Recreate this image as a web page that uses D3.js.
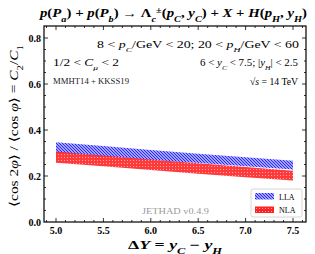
<!DOCTYPE html>
<html><head><meta charset="utf-8">
<script src="https://cdn.jsdelivr.net/npm/d3@7"></script>
<style>
html,body{margin:0;padding:0;background:#fff;}
svg{display:block;}
text{font-family:"Liberation Serif","DejaVu Serif",serif;}
</style></head>
<body>
<script>
const deltaY = [5.0, 5.5, 6.0, 6.5, 7.0, 7.5];
const llaUpper = [0.347, 0.330, 0.313, 0.297, 0.281, 0.266];
const llaLower = [0.300, 0.285, 0.270, 0.256, 0.242, 0.228];
const nlaUpper = [0.306, 0.289, 0.272, 0.255, 0.239, 0.223];
const nlaLower = [0.258, 0.242, 0.226, 0.210, 0.195, 0.180];
const xTicks = [5.0, 5.5, 6.0, 6.5, 7.0, 7.5];
const yTicks = [0.0, 0.2, 0.4, 0.6, 0.8];
const seriesNames = ["LLA", "NLA"];

(function(){
const W = 315, H = 254;
const svg = d3.select("body").append("svg").attr("width", W).attr("height", H);
const defs = svg.append("defs");

const pb = defs.append("pattern").attr("id","hatchBlue").attr("patternUnits","userSpaceOnUse")
  .attr("width",3).attr("height",3);
pb.append("rect").attr("width",3).attr("height",3).attr("fill","#d4d4ff");
pb.append("path").attr("d","M-1,-1 L4,4 M-1,2 L1,4 M2,-1 L4,1").attr("stroke","#2020ff").attr("stroke-width",1.1);

const pr = defs.append("pattern").attr("id","hatchRed").attr("patternUnits","userSpaceOnUse")
  .attr("width",3).attr("height",3);
pr.append("rect").attr("width",3).attr("height",3).attr("fill","#ff2424");
pr.append("rect").attr("x",1).attr("y",1).attr("width",1).attr("height",1).attr("fill","#ff9a9a");

const pL = 44, pR = 306, pT = 26, pB = 222;
const x = d3.scaleLinear().domain([5.0, 7.5]).range([56, 293]);
const y = d3.scaleLinear().domain([0, 0.8]).range([pB, 38]);

const area = (lo, hi) => d3.area()
  .x((d,i) => x(deltaY[i]))
  .y0((d,i) => y(lo[i]))
  .y1((d,i) => y(hi[i]))(deltaY);

svg.append("path").attr("d", area(llaLower, llaUpper)).attr("fill","url(#hatchBlue)");
svg.append("path").attr("d", area(nlaLower, nlaUpper)).attr("fill","url(#hatchRed)").attr("opacity",0.9);

svg.append("rect").attr("x",pL).attr("y",pT).attr("width",pR-pL).attr("height",pB-pT)
  .attr("fill","none").attr("stroke","#000").attr("stroke-width",1.2);

const tk = svg.append("g").attr("stroke","#000").attr("stroke-width",0.8);
const xMinor = d3.range(4.9, 7.61, 0.1).map(v => +v.toFixed(2)).filter(v => x(v) > pL+1 && x(v) < pR-1);
xMinor.forEach(v => {
  const isMajor = xTicks.some(t => Math.abs(t - v) < 1e-6);
  const L = isMajor ? 4 : 2;
  tk.append("line").attr("x1",x(v)).attr("x2",x(v)).attr("y1",pB).attr("y2",pB-L);
  tk.append("line").attr("x1",x(v)).attr("x2",x(v)).attr("y1",pT).attr("y2",pT+L);
});
const yMinor = d3.range(0, 0.86, 0.05).map(v => +v.toFixed(2)).filter(v => y(v) > pT+1 && y(v) < pB-1);
yMinor.forEach(v => {
  const isMajor = yTicks.some(t => Math.abs(t - v) < 1e-6);
  const L = isMajor ? 4 : 2;
  tk.append("line").attr("y1",y(v)).attr("y2",y(v)).attr("x1",pL).attr("x2",pL+L);
  tk.append("line").attr("y1",y(v)).attr("y2",y(v)).attr("x1",pR).attr("x2",pR-L);
});

svg.append("g").selectAll("text").data(xTicks).join("text")
  .attr("x", d => x(d)).attr("y", pB + 12).attr("text-anchor","middle")
  .attr("font-size",10).attr("font-weight","bold").text(d => d.toFixed(1));
svg.append("g").selectAll("text").data(yTicks).join("text")
  .attr("x", pL - 3).attr("y", d => y(d) + 3.5).attr("text-anchor","end")
  .attr("font-size",10).attr("font-weight","bold").text(d => d.toFixed(1));

function rich(parent, parts, attrs) {
  const t = parent.append("text");
  Object.entries(attrs).forEach(([k,v]) => t.attr(k,v));
  parts.forEach(p => {
    const s = t.append("tspan").text(p.t);
    if (p.i) s.attr("font-style","italic");
    if (p.sub) s.attr("baseline-shift","sub").attr("font-size", "70%");
    if (p.sup) s.attr("baseline-shift","super").attr("font-size", "70%");
  });
  return t;
}

rich(svg, [
  {t:"p",i:1},{t:"("},{t:"P",i:1},{t:"a",i:1,sub:1},{t:") + "},{t:"p",i:1},{t:"("},{t:"P",i:1},{t:"b",i:1,sub:1},
  {t:") → Λ"},{t:"c",i:1,sub:1},{t:"±",sup:1},{t:"("},{t:"p",i:1},{t:"C",i:1,sub:1},{t:", "},{t:"y",i:1},{t:"C",i:1,sub:1},
  {t:") + "},{t:"X",i:1},{t:" + "},{t:"H",i:1},{t:"("},{t:"p",i:1},{t:"H",i:1,sub:1},{t:", "},{t:"y",i:1},{t:"H",i:1,sub:1},{t:")"}
], {x:40, y:17, "text-anchor":"start", "font-size":12, "font-weight":"bold", textLength:267, lengthAdjust:"spacingAndGlyphs"});

rich(svg, [{t:"8 < "},{t:"p",i:1},{t:"C",i:1,sub:1},{t:"/GeV < 20; 20 < "},{t:"p",i:1},{t:"H",i:1,sub:1},{t:"/GeV < 60"}],
  {x:97, y:48, "font-size":10, textLength:202, lengthAdjust:"spacingAndGlyphs"});
rich(svg, [{t:"1/2 < "},{t:"C",i:1},{t:"μ",i:1,sub:1}, {t:" < 2"}],
  {x:53, y:66, "font-size":10, textLength:66, lengthAdjust:"spacingAndGlyphs"});
rich(svg, [{t:"6 < "},{t:"y",i:1},{t:"C",i:1,sub:1},{t:" < 7.5;  |"},{t:"y",i:1},{t:"H",i:1,sub:1},{t:"| < 2.5"}],
  {x:200, y:66, "font-size":10, textLength:98, lengthAdjust:"spacingAndGlyphs"});
svg.append("text").attr("x",53).attr("y",84).attr("font-size",8)
  .attr("font-family","'DejaVu Sans Mono','Liberation Mono',monospace").attr("fill","#222")
  .attr("textLength",76).attr("lengthAdjust","spacingAndGlyphs").text("MMHT14 + KKSS19");
rich(svg, [{t:"√"},{t:"s",i:1},{t:" = 14 TeV"}],
  {x:250, y:85, "font-size":10, textLength:48, lengthAdjust:"spacingAndGlyphs"});

svg.append("text").attr("x",142).attr("y",214).attr("font-size",8)
  .attr("font-family","'DejaVu Sans Mono','Liberation Mono',monospace").attr("fill","#9a9a9a")
  .attr("textLength",67).attr("lengthAdjust","spacingAndGlyphs").text("JETHAD v0.4.9");

const lg = svg.append("g");
lg.append("rect").attr("x",251).attr("y",189).attr("width",51).attr("height",28).attr("rx",2)
  .attr("fill","#fff").attr("stroke","#ccc").attr("stroke-width",0.8);
const fills = ["url(#hatchBlue)","url(#hatchRed)"];
seriesNames.forEach((n,i) => {
  lg.append("rect").attr("x",255).attr("y",193 + i*13.5).attr("width",19).attr("height",6.5).attr("fill",fills[i]);
  lg.append("text").attr("x",279).attr("y",199.5 + i*13.5).attr("font-size",8).text(n);
});

rich(svg, [{t:"Δ"},{t:"Y",i:1},{t:" = "},{t:"y",i:1},{t:"C",i:1,sub:1},{t:" − "},{t:"y",i:1},{t:"H",i:1,sub:1}],
  {x:128, y:249, "font-size":12, "font-weight":"bold", textLength:94, lengthAdjust:"spacingAndGlyphs"});
rich(svg, [{t:"⟨cos 2"},{t:"φ",i:1},{t:"⟩ / ⟨cos "},{t:"φ",i:1},{t:"⟩ = "},{t:"C",i:1},{t:"2",sub:1},{t:"/"},{t:"C",i:1},{t:"1",sub:1}],
  {transform:"translate(18,207) rotate(-90)", "font-size":12.5, textLength:162, lengthAdjust:"spacingAndGlyphs"});
})();
</script>
</body></html>
